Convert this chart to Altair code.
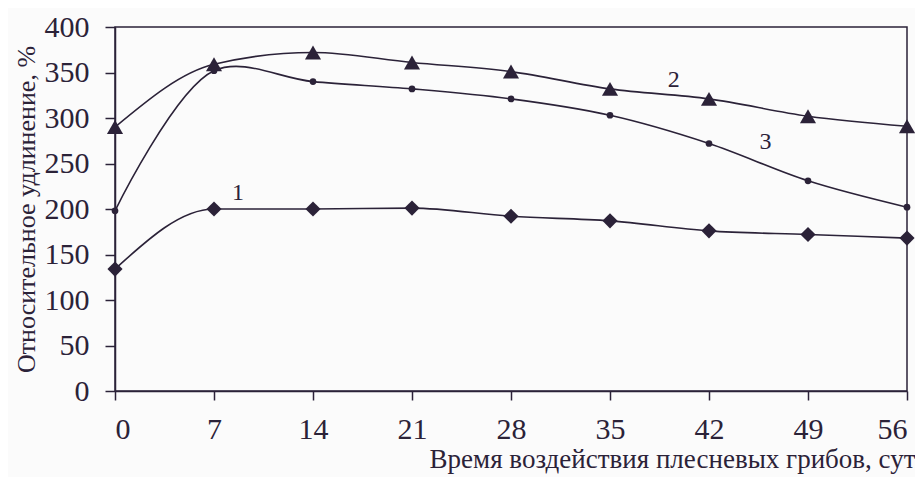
import altair as alt
import pandas as pd

days = [0, 7, 14, 21, 28, 35, 42, 49, 56]
s1 = [134, 200, 200, 201, 192, 187, 176, 172, 168]
s2 = [290, 359, 372, 361, 351, 332, 321, 302, 291]
s3 = [198, 352, 340, 332, 321, 303, 272, 231, 202]

lab_text = ["1", "2", "3"]
lab_x = [8.7, 39.5, 46.0]
lab_y = [218, 342, 274]

x_ticks = days
y_ticks = [0, 50, 100, 150, 200, 250, 300, 350, 400]

ink = "#2b2238"
font = "Liberation Serif"

rows = []
for name, vals in [("1", s1), ("2", s2), ("3", s3)]:
    for d, v in zip(days, vals):
        rows.append({"day": d, "val": v, "series": name})
df = pd.DataFrame(rows)
labels = pd.DataFrame({"t": lab_text, "x": lab_x, "y": lab_y})

xs = alt.Scale(domain=[0, 56], nice=False, zero=False)
ys = alt.Scale(domain=[0, 400], nice=False)

xax = alt.Axis(values=x_ticks, title="Время воздействия плесневых грибов, сут",
               grid=False, tickSize=9, labelPadding=14, labelFontSize=30,
               titleFontSize=27, titleFontWeight="normal", titleAlign="right",
               titleAnchor="end", titleX=800, titleY=76, titleBaseline="alphabetic")
yax = alt.Axis(values=y_ticks, title="Относительное удлинение, %", grid=False,
               tickSize=10, labelPadding=16, labelFontSize=30, titleFontSize=26,
               titleFontWeight="normal", titlePadding=5)

base = alt.Chart(df)
lines12 = base.transform_filter(alt.datum.series != "3").mark_line(
    color=ink, strokeWidth=1.6, interpolate="monotone").encode(
    x=alt.X("day:Q", scale=xs, axis=xax),
    y=alt.Y("val:Q", scale=ys, axis=yax),
    detail="series:N",
)
line3 = base.transform_filter(alt.datum.series == "3").mark_line(
    color=ink, strokeWidth=1.6, interpolate="catmull-rom").encode(
    x=alt.X("day:Q", scale=xs), y=alt.Y("val:Q", scale=ys))
m1 = base.transform_filter(alt.datum.series == "1").mark_point(
    shape="diamond", filled=True, size=230, color=ink, opacity=1).encode(
    x=alt.X("day:Q", scale=xs), y=alt.Y("val:Q", scale=ys))
m2 = base.transform_filter(alt.datum.series == "2").mark_point(
    shape="triangle-up", filled=True, size=260, color=ink, opacity=1).encode(
    x=alt.X("day:Q", scale=xs), y=alt.Y("val:Q", scale=ys))
m3 = base.transform_filter(alt.datum.series == "3").mark_point(
    shape="circle", filled=True, size=45, color=ink, opacity=1).encode(
    x=alt.X("day:Q", scale=xs), y=alt.Y("val:Q", scale=ys))
txt = alt.Chart(labels).mark_text(font=font, fontSize=24, color=ink).encode(
    x=alt.X("x:Q", scale=xs), y=alt.Y("y:Q", scale=ys), text="t:N")

chart = alt.layer(lines12, line3, m1, m2, m3, txt).properties(
    width=792, height=364, background="#fbfbfb",
    autosize=alt.AutoSizeParams(type="none"),
    padding={"left": 107, "top": 19, "right": 8, "bottom": 86},
).configure_view(stroke=ink, strokeWidth=1.5).configure_axis(
    domainColor=ink, domainWidth=1.5, tickColor=ink, tickWidth=1.5,
    labelColor=ink, titleColor=ink, labelFont=font, titleFont=font,
)

chart.save("out.html", embed_options={"renderer": "svg", "actions": False})
